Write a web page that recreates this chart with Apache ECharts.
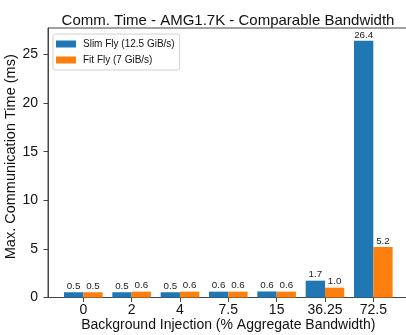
<!DOCTYPE html>
<html>
<head>
<meta charset="utf-8">
<script src="https://cdn.jsdelivr.net/npm/echarts@6/dist/echarts.min.js"></script>
<style>html,body{margin:0;padding:0;background:#fff}#c{width:406px;height:335px}</style>
</head>
<body>
<div id="c"></div>
<script>
var categories = ['0', '2', '4', '7.5', '15', '36.25', '72.5'];
var slimFly = [0.54, 0.54, 0.54, 0.6, 0.62, 1.73, 26.4];
var fitFly = [0.54, 0.6, 0.6, 0.6, 0.6, 1.01, 5.2];
var yTicks = [0, 5, 10, 15, 20, 25];
var seriesNames = ['Slim Fly (12.5 GiB/s)', 'Fit Fly (7 GiB/s)'];

var FONT = 'Liberation Sans';
var chart = echarts.init(document.getElementById('c'), null, {renderer: 'canvas'});
function pairs(arr) { return arr.map(function (v, i) { return [i, v]; }); }
function lbl() {
  return {show: true, position: 'top', distance: 1, fontFamily: FONT, fontSize: 9.8, color: '#222',
    formatter: function (p) { return p.value[1].toFixed(1); }};
}
chart.setOption({
  animation: false,
  textStyle: {fontFamily: FONT},
  title: {text: 'Comm. Time - AMG1.7K - Comparable Bandwidth', left: 223, textAlign: 'center', top: 8,
    textStyle: {fontFamily: FONT, fontSize: 15, fontWeight: 'normal', color: '#111'}},
  grid: {left: 48, right: -2.6, top: 28, bottom: 37.5, show: true, borderColor: '#444', borderWidth: 1,
    containLabel: false, outerBoundsMode: 'none'},
  legend: {left: 53, top: 34, orient: 'vertical', itemWidth: 20, itemHeight: 7, itemGap: 6,
    padding: [5, 5, 5, 3], backgroundColor: '#fff', borderColor: '#d0d0d0', borderWidth: 1, borderRadius: 2,
    textStyle: {fontFamily: FONT, fontSize: 10, color: '#111', padding: [0, 0, 0, 2]},
    itemStyle: {borderWidth: 0},
    data: seriesNames.map(function (n) { return {name: n, icon: 'rect'}; })},
  xAxis: {type: 'value', min: -0.73, max: 6.73,
    splitLine: {show: false},
    axisLine: {show: true, onZero: false, lineStyle: {color: '#444', width: 1}},
    axisTick: {show: true, length: 4.5, lineStyle: {color: '#444'}, customValues: categories.map(function (c, i) { return i; })},
    axisLabel: {fontFamily: FONT, fontSize: 14, color: '#111', margin: 6,
      customValues: categories.map(function (c, i) { return i; }),
      formatter: function (v) { return categories[Math.round(v)]; }},
    name: 'Background Injection (% Aggregate Bandwidth)', nameLocation: 'middle', nameGap: 21,
    nameMoveOverlap: false,
    nameTextStyle: {fontFamily: FONT, fontSize: 14, color: '#111', verticalAlign: 'top'}},
  yAxis: {type: 'value', min: 0, max: 27.72,
    splitLine: {show: false},
    axisLine: {show: true, onZero: false, lineStyle: {color: '#444', width: 1}},
    axisTick: {show: true, length: 4.5, lineStyle: {color: '#444'}, customValues: yTicks},
    axisLabel: {fontFamily: FONT, fontSize: 14, color: '#111', margin: 10, customValues: yTicks},
    name: 'Max. Communication Time (ms)', nameLocation: 'middle', nameGap: 30,
    nameMoveOverlap: false,
    nameTextStyle: {fontFamily: FONT, fontSize: 14.5, color: '#111', padding: [0, 0, 0, 12]}},
  series: [
    {name: seriesNames[0], type: 'bar', data: pairs(slimFly), barWidth: 19.3, barGap: '0%',
      itemStyle: {color: '#1f77b4'}, label: lbl()},
    {name: seriesNames[1], type: 'bar', data: pairs(fitFly), barWidth: 19.3, barGap: '0%',
      itemStyle: {color: '#ff7f0e'}, label: lbl()}
  ]
});
</script>
</body>
</html>
